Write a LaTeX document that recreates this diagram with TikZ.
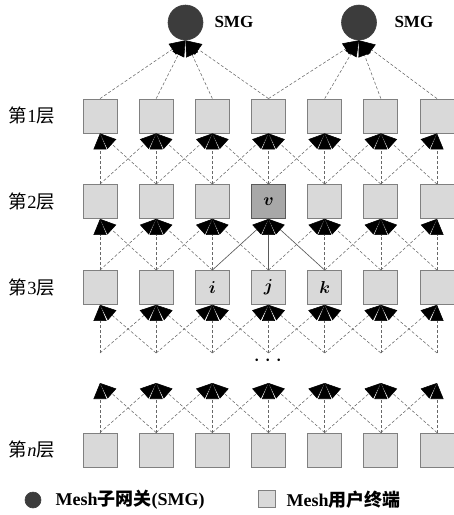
\documentclass[tikz,border=0pt]{standalone}
\usepackage{amsmath}
\usepackage{fontspec}
\setmainfont{Liberation Serif}
\newfontfamily\cjk{Noto Sans CJK SC}
\usetikzlibrary{arrows.meta}
\definecolor{boxfill}{HTML}{D9D9D9}
\definecolor{boxedge}{HTML}{808080}
\definecolor{vfill}{HTML}{A8A8A8}
\definecolor{vedge}{HTML}{5A5A5A}
\definecolor{smgfill}{HTML}{3C3C3C}
\definecolor{linkgray}{HTML}{686868}
\tikzset{
  term/.style={draw=boxedge, fill=boxfill, line width=0.8pt, minimum size=34pt,
    inner sep=0pt, font=\fontsize{17}{17}\selectfont},
  hub/.style={circle, draw=black!75, line width=0.6pt, fill=smgfill,
    minimum size=35pt, inner sep=0pt},
  tipstyle/.style={-{Triangle[length=16pt,width=13pt,color=black]}},
  link/.style={draw=linkgray, line width=0.55pt, dash pattern=on 3pt off 2pt, tipstyle},
  solidlink/.style={draw=vedge, line width=0.65pt, tipstyle},
  layer/.style={font=\cjk\fontsize{18.5}{18.5}\selectfont},
  tag/.style={font=\bfseries\fontsize{17}{17}\selectfont, anchor=west},
  legendtext/.style={font=\bfseries\fontsize{18}{18}\selectfont, anchor=west},
  letter/.style={font=\fontsize{17}{17}\selectfont},
}
\begin{document}
\begin{tikzpicture}[x=1pt, y=-1pt]
\useasboundingbox (0,0) rectangle (454,515);

% terminals: four layers of seven boxes
\foreach \r/\y in {1/116, 2/201.5, 3/287.5, n/450} {
  \foreach \c in {1,...,7} {
    \pgfmathsetmacro{\xx}{100+(\c-1)*56.17}
    \node[term] (b\r-\c) at (\xx,\y) {};
  }
}
% highlighted node and its neighbours
\node[term, fill=vfill, draw=vedge] (b2-4) at (b2-4) {$\boldsymbol{v}$};
\node[letter] (ti) at (b3-3) {$\boldsymbol{i}$};
\node[letter] (tj) at (b3-4) {$\boldsymbol{j}$};
\node[letter] (tk) at (b3-5) {$\boldsymbol{k}$};

% gateways
\node[hub] (s1) at (185.5,22.5) {};
\node[hub] (s2) at (359,22.5) {};
\node[tag] (s1lab) at (211,22) {SMG};
\node[tag] (s2lab) at (391,22) {SMG};

% layer 1 to gateways
\foreach \c in {1,2,3,4} \draw[link] (b1-\c.north) -- (s1.south);
\foreach \c in {4,5,6,7} \draw[link] (b1-\c.north) -- (s2.south);

% links between consecutive layers
\foreach \up/\lo in {1/2, 2/3} {
  \foreach \c in {1,...,7} {
    \foreach \d in {-1,0,1} {
      \pgfmathtruncatemacro{\src}{\c+\d}
      \ifnum\src>0 \ifnum\src<8
        \pgfmathtruncatemacro{\isv}{(\up==2)&&(\c==4)}
        \ifnum\isv=1
          \draw[solidlink] (b\lo-\src.north) -- (b\up-\c.south);
        \else
          \draw[link] (b\lo-\src.north) -- (b\up-\c.south);
        \fi
      \fi\fi
    }
  }
}

% open links below layer 3 and above layer n
\foreach \c in {1,...,7} {
  \pgfmathsetmacro{\xx}{100+(\c-1)*56.17}
  \coordinate (p3-\c) at (\xx,353);
  \coordinate (pn-\c) at (\xx,383);
}
\foreach \c in {1,...,7} {
  \foreach \d in {-1,0,1} {
    \pgfmathtruncatemacro{\src}{\c+\d}
    \ifnum\src>0 \ifnum\src<8
      \draw[link] (p3-\src) -- (b3-\c.south);
      \draw[link] (bn-\src.north) -- (pn-\c);
    \fi\fi
  }
}
\node[font=\fontsize{26}{26}\selectfont] (dots) at (270,361) {$\cdots$};

% layer labels
\node[layer] (l1) at (32,116) {第{\rmfamily 1}层};
\node[layer] (l2) at (32,201.5) {第{\rmfamily 2}层};
\node[layer] (l3) at (32,287.5) {第{\rmfamily 3}层};
\node[layer] (ln) at (32,450) {第{\rmfamily\itshape n}层};

% legend
\node[hub, minimum size=16pt] (leg1) at (33,500) {};
\node[legendtext] (leg1t) at (52,500) {Mesh{\cjk 子网关}(SMG)};
\node[term, minimum size=17pt] (leg2) at (266.5,498.5) {};
\node[legendtext] (leg2t) at (283,500) {Mesh{\cjk 用户终端}};
\end{tikzpicture}
\end{document}
